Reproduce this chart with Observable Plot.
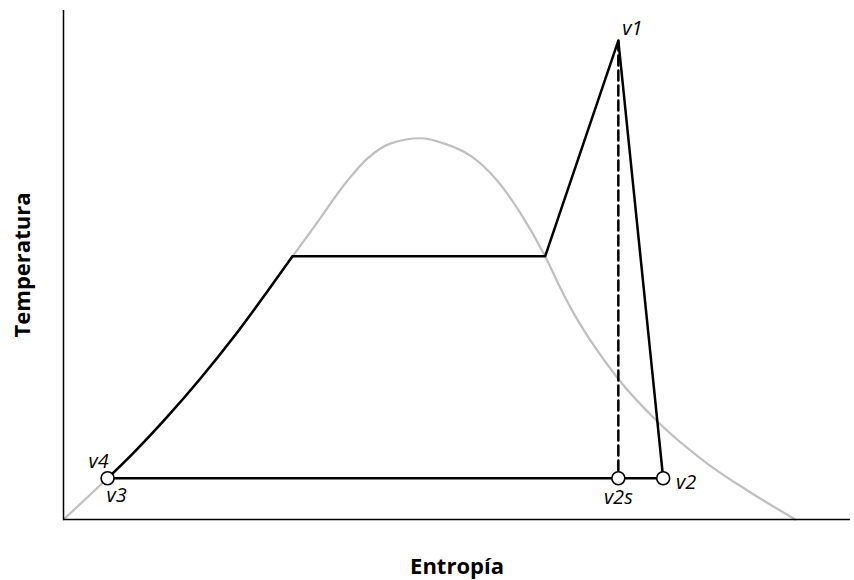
<!DOCTYPE html>
<html>
<head>
<meta charset="utf-8">
<script src="https://cdn.jsdelivr.net/npm/d3@7"></script>
<script src="https://cdn.jsdelivr.net/npm/@observablehq/plot@0.6"></script>
<style>
  html, body { margin: 0; padding: 0; background: #fff; }
  #chart { width: 854px; height: 580px; }
</style>
</head>
<body>
<div id="chart"></div>
<script>
// Saturation dome (entropy s, temperature T), arbitrary units 0..100
const domeS = [0, 5.6, 8.9, 13.2, 17.4, 21.6, 25.9, 29.1, 31.8, 36.1, 38.6, 41.6, 45.4, 48.3, 51.7, 55.1, 58.1, 61.2, 63.1, 64.8, 67.6, 70.5, 75.5, 81.8, 86.9, 93.0];
const domeT = [0, 8.1, 13.1, 20.2, 27.7, 35.8, 44.8, 51.7, 57.4, 66.6, 70.9, 73.9, 74.9, 73.9, 71.5, 66.6, 60.1, 51.7, 45.6, 40.6, 33.7, 27.6, 19.2, 11.0, 5.7, 0];

// Cycle: v3 -> along saturated liquid line -> evaporation -> superheat -> v1 -> v2 -> v3
const liquidS = [5.6, 8.9, 13.2, 17.4, 21.6, 25.9, 29.1];
const liquidT = [8.1, 13.1, 20.2, 27.7, 35.8, 44.8, 51.7];
const upperS = [29.1, 61.2, 70.5, 76.2, 5.6];
const upperT = [51.7, 51.7, 94.1, 8.1, 8.1];

// State points
const stateNames = ["v1", "v2", "v2s", "v3", "v4"];
const stateS = [70.5, 76.2, 70.5, 5.6, 5.6];
const stateT = [94.1, 8.1, 8.1, 8.1, 8.1];
const markedStates = ["v2", "v2s", "v3"];

// Isentropic reference (v1 -> v2s)
const isoS = [70.5, 70.5];
const isoT = [94.1, 8.1];

const xLabel = "Entropía";
const yLabel = "Temperatura";

const dome = domeS.map((s, i) => ({s, T: domeT[i]}));
const liquid = liquidS.map((s, i) => ({s, T: liquidT[i]}));
const upper = upperS.map((s, i) => ({s, T: upperT[i]}));
const iso = isoS.map((s, i) => ({s, T: isoT[i]}));
const states = stateNames.map((name, i) => ({name, s: stateS[i], T: stateT[i]}));
const dots = states.filter(d => markedStates.includes(d.name));

// label placement per state (style only)
const labelStyle = {
  v1:  {dx: 14, dy: -12},
  v2:  {dx: 23, dy: 4},
  v2s: {dx: 0, dy: 19},
  v3:  {dx: 9, dy: 17},
  v4:  {dx: -9, dy: -17}
};

const font = "'Open Sans', 'Liberation Sans', sans-serif";

const chart = Plot.plot({
  width: 854,
  height: 580,
  marginLeft: 63,
  marginRight: 4,
  marginTop: 10,
  marginBottom: 61,
  style: {fontFamily: font, background: "#fff"},
  x: {domain: [0, 100], axis: null},
  y: {domain: [0, 100], axis: null},
  marks: [
    Plot.line(dome, {x: "s", y: "T", stroke: "#bfbfbf", strokeWidth: 2.2, curve: "monotone-x"}),
    Plot.line(liquid, {x: "s", y: "T", stroke: "#000", strokeWidth: 2.5, curve: "monotone-x"}),
    Plot.line(upper, {x: "s", y: "T", stroke: "#000", strokeWidth: 2.5, strokeLinejoin: "miter"}),
    Plot.line(iso, {x: "s", y: "T", stroke: "#000", strokeWidth: 2.5, strokeDasharray: "10,5"}),
    Plot.ruleX([0], {y1: 0, y2: 100, stroke: "#000", strokeWidth: 1.5}),
    Plot.ruleY([0], {x1: 0, x2: 100, stroke: "#000", strokeWidth: 1.5}),
    Plot.dot(dots, {x: "s", y: "T", r: 6.5, fill: "#fff", stroke: "#000", strokeWidth: 1.6}),
    ...stateNames.map(n => Plot.text(states.filter(d => d.name === n), {
      x: "s", y: "T", text: "name",
      dx: labelStyle[n].dx, dy: labelStyle[n].dy,
      fontSize: 20, fontStyle: "italic", fill: "#000", fontFamily: font
    })),
    Plot.text([xLabel], {frameAnchor: "bottom", dy: 47, lineAnchor: "middle", textAnchor: "middle", fontSize: 22, fontWeight: "bold", fill: "#000", fontFamily: font}),
    Plot.text([yLabel], {frameAnchor: "left", dx: -41, rotate: -90, lineAnchor: "middle", textAnchor: "middle", fontSize: 22, fontWeight: "bold", fill: "#000", fontFamily: font})
  ]
});
document.getElementById("chart").appendChild(chart);
</script>
</body>
</html>
